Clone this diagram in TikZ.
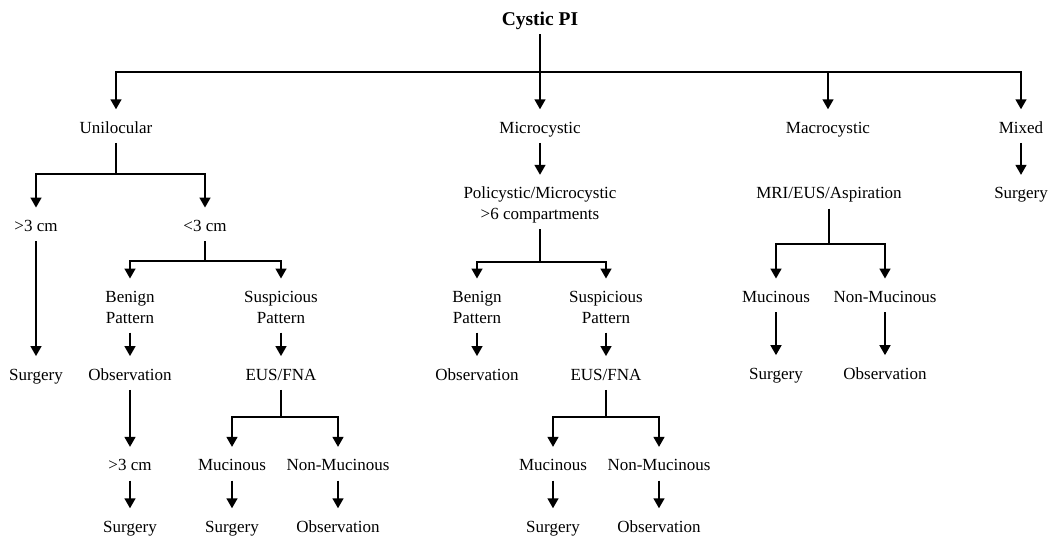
\documentclass[tikz,border=0pt]{standalone}
\usepackage{fontspec}
\setmainfont{Liberation Serif}
\usetikzlibrary{arrows.meta}
\newcommand{\topstrut}{\rule{0pt}{20.5pt}}
\newcommand{\botstrut}{\rule[-6pt]{0pt}{6pt}}
\begin{document}
\begin{tikzpicture}[x=1pt,y=-1pt,
  every node/.style={inner xsep=2pt, inner ysep=3.4pt, font=\fontsize{17}{20.5}\selectfont},
  one/.style={text height=20.5pt, text depth=6pt},
  two/.style={align=center},
  rootbox/.style={font=\bfseries\fontsize{19.5}{23}\selectfont, text height=13pt, text depth=5pt, inner ysep=4pt},
  link/.style={line width=1.6pt},
  arr/.style={link, -{Triangle[length=10pt,width=11pt]}}
]
\useasboundingbox (0,0) rectangle (1053,536);
% nodes
\node[rootbox] (root) at (540,21) {Cystic PI};
\node[one] (uni) at (116,126.1) {Unilocular};
\node[one] (mic) at (540,126.1) {Microcystic};
\node[one] (mac) at (828,126.1) {Macrocystic};
\node[one] (mix) at (1021,126.1) {Mixed};
\node[two] (poly) at (540,201.9) {\topstrut Policystic/Microcystic\\>6 compartments\botstrut};
\node[one] (mri) at (829,191.7) {MRI/EUS/Aspiration};
\node[one] (surg6) at (1021,191.7) {Surgery};
\node[one] (gt1) at (36,224.4) {>3 cm};
\node[one] (lt1) at (205,224.4) {<3 cm};
\node[two] (ben1) at (130,305.6) {\topstrut Benign\\Pattern\botstrut};
\node[two] (sus1) at (281,305.6) {\topstrut Suspicious\\Pattern\botstrut};
\node[two] (ben2) at (477,305.6) {\topstrut Benign\\Pattern\botstrut};
\node[two] (sus2) at (606,305.6) {\topstrut Suspicious\\Pattern\botstrut};
\node[one] (muc3) at (776,295.4) {Mucinous};
\node[one] (non3) at (885,295.4) {Non-Mucinous};
\node[one] (surg1) at (36,372.9) {Surgery};
\node[one] (obs1) at (130,372.9) {Observation};
\node[one] (eus1) at (281,372.9) {EUS/FNA};
\node[one] (obs3) at (477,372.9) {Observation};
\node[one] (eus2) at (606,372.9) {EUS/FNA};
\node[one] (surg5) at (776,372) {Surgery};
\node[one] (obs5) at (885,372) {Observation};
\node[one] (gt2) at (130,463.7) {>3 cm};
\node[one] (muc1) at (232,463.7) {Mucinous};
\node[one] (non1) at (338,463.7) {Non-Mucinous};
\node[one] (muc2) at (553,463.7) {Mucinous};
\node[one] (non2) at (659,463.7) {Non-Mucinous};
\node[one] (surg2) at (130,525.1) {Surgery};
\node[one] (surg3) at (232,525.1) {Surgery};
\node[one] (obs2) at (338,525.1) {Observation};
\node[one] (surg4) at (553,525.1) {Surgery};
\node[one] (obs4) at (659,525.1) {Observation};
% junctions
\coordinate (j0) at (540,72);
\coordinate (j1) at (116,174);
\coordinate (j2) at (205,261);
\coordinate (j3) at (540,262);
\coordinate (j4) at (281,417);
\coordinate (j5) at (606,417);
\coordinate (j6) at (829,244);
% connectors
\draw[arr] (root) -- (mic);
\draw[arr] (j0) -| (uni);
\draw[arr] (j0) -| (mac);
\draw[arr] (j0) -| (mix);
\draw[link] (uni) -- (j1);
\draw[arr] (j1) -| (gt1);
\draw[arr] (j1) -| (lt1);
\draw[arr] (gt1) -- (surg1);
\draw[link] (lt1) -- (j2);
\draw[arr] (j2) -| (ben1);
\draw[arr] (j2) -| (sus1);
\draw[arr] (ben1) -- (obs1);
\draw[arr] (obs1) -- (gt2);
\draw[arr] (gt2) -- (surg2);
\draw[arr] (sus1) -- (eus1);
\draw[link] (eus1) -- (j4);
\draw[arr] (j4) -| (muc1);
\draw[arr] (j4) -| (non1);
\draw[arr] (muc1) -- (surg3);
\draw[arr] (non1) -- (obs2);
\draw[arr] (mic) -- (poly);
\draw[link] (poly) -- (j3);
\draw[arr] (j3) -| (ben2);
\draw[arr] (j3) -| (sus2);
\draw[arr] (ben2) -- (obs3);
\draw[arr] (sus2) -- (eus2);
\draw[link] (eus2) -- (j5);
\draw[arr] (j5) -| (muc2);
\draw[arr] (j5) -| (non2);
\draw[arr] (muc2) -- (surg4);
\draw[arr] (non2) -- (obs4);
\draw[link] (mri) -- (j6);
\draw[arr] (j6) -| (muc3);
\draw[arr] (j6) -| (non3);
\draw[arr] (muc3) -- (surg5);
\draw[arr] (non3) -- (obs5);
\draw[arr] (mix) -- (surg6);
\end{tikzpicture}
\end{document}
